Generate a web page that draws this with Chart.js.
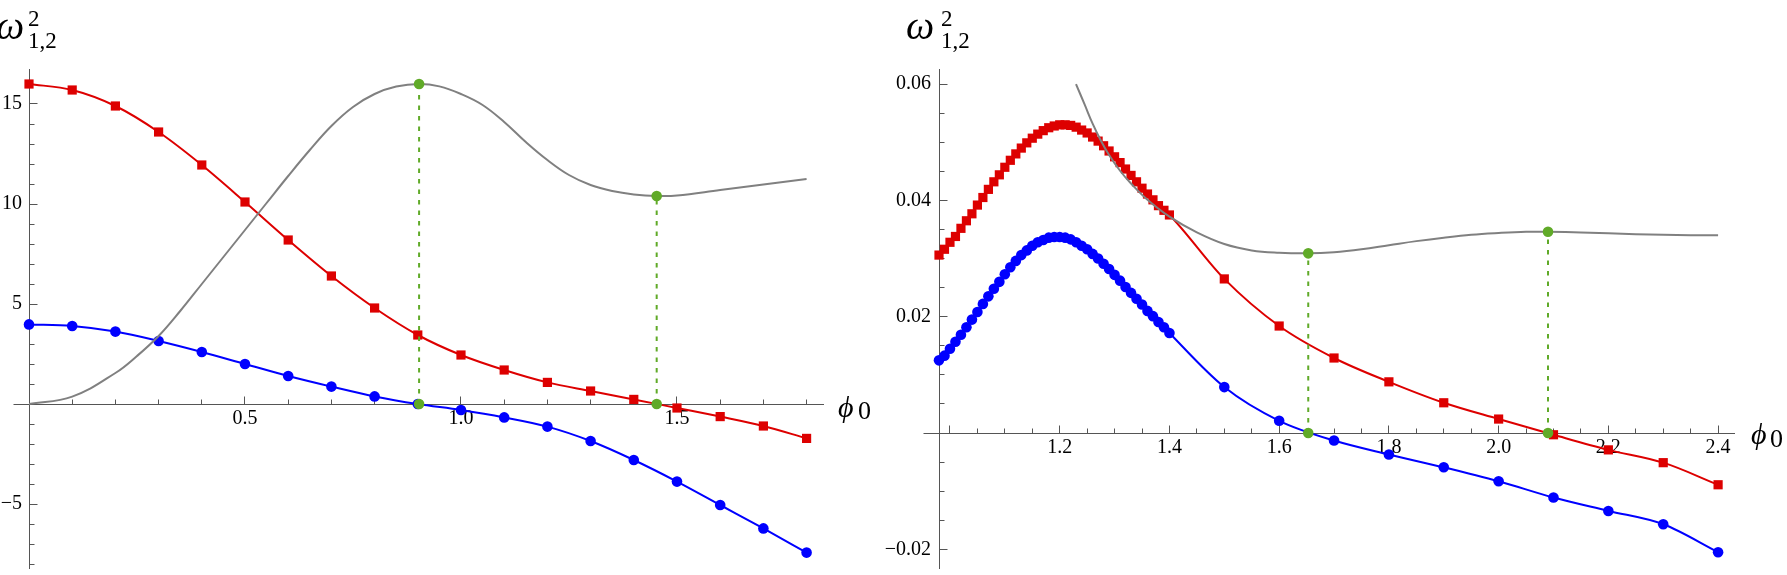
<!DOCTYPE html>
<html>
<head>
<meta charset="utf-8">
<script src="https://cdn.jsdelivr.net/npm/chart.js@4.4.1/dist/chart.umd.min.js"></script>
<style>
  html, body { margin: 0; padding: 0; background: #fff; }
  body { width: 1787px; height: 575px; position: relative; overflow: hidden; }
  canvas { position: absolute; top: 0; }
  .t { position: absolute; font-family: "Liberation Serif", serif; line-height: 1; white-space: nowrap; color: #000; }
  .it { font-style: italic; }
</style>
</head>
<body>
<canvas id="leftChart" width="880" height="575" style="left:0"></canvas>
<canvas id="rightChart" width="907" height="575" style="left:880px"></canvas>

<!-- axis labels -->
<span class="t it" style="left:-4px;top:6px;font-size:40px">ω</span>
<span class="t" style="left:28px;top:7px;font-size:23px">2</span>
<span class="t" style="left:28px;top:29px;font-size:23px">1,2</span>
<span class="t it" style="left:838px;top:392px;font-size:30px">ϕ</span>
<span class="t" style="left:858px;top:398px;font-size:26px">0</span>

<span class="t it" style="left:906px;top:6px;font-size:40px">ω</span>
<span class="t" style="left:941px;top:7px;font-size:23px">2</span>
<span class="t" style="left:941px;top:29px;font-size:23px">1,2</span>
<span class="t it" style="left:1751px;top:419px;font-size:30px">ϕ</span>
<span class="t" style="left:1770px;top:426px;font-size:26px">0</span>

<script>
// ---- left panel data ----
const leftPhi = [0, 0.1, 0.2, 0.3, 0.4, 0.5, 0.6, 0.7, 0.8, 0.9, 1.0, 1.1, 1.2, 1.3, 1.4, 1.5, 1.6, 1.7, 1.8];
const leftOmega2 = [16.0, 15.7, 14.9, 13.6, 11.95, 10.1, 8.2, 6.4, 4.8, 3.45, 2.45, 1.7, 1.08, 0.65, 0.23, -0.2, -0.63, -1.1, -1.72];
const leftOmega1 = [3.98, 3.9, 3.62, 3.15, 2.6, 2.0, 1.4, 0.87, 0.38, 0.0, -0.3, -0.67, -1.13, -1.85, -2.8, -3.88, -5.05, -6.22, -7.43];

const leftCurvePhi = [0, 0.1, 0.2, 0.25, 0.3, 0.35, 0.4, 0.45, 0.5, 0.55, 0.6, 0.65, 0.7, 0.75, 0.8, 0.85, 0.903,
  0.95, 1.0, 1.05, 1.1, 1.15, 1.2, 1.25, 1.3, 1.35, 1.4, 1.453, 1.5, 1.6, 1.7, 1.8];
const leftCurveVal = [0, 0.37, 1.55, 2.4, 3.4, 4.65, 6.0, 7.35, 8.7, 10.05, 11.4, 12.7, 13.9, 14.85, 15.5, 15.87, 16.0,
  15.88, 15.5, 14.95, 14.1, 13.1, 12.2, 11.45, 10.95, 10.65, 10.48, 10.4, 10.42, 10.7, 10.98, 11.25];

const leftMarkPhi = [0.903, 1.453];
const leftMarkVal = [16.0, 10.4];

const leftXLabels = [0.5, 1.0, 1.5];
const leftYLabels = [15, 10, 5, -5];

// ---- right panel data ----
const rightPhi = [0.98, 0.99, 1.00, 1.01, 1.02, 1.03, 1.04, 1.05, 1.06, 1.07, 1.08, 1.09, 1.10, 1.11, 1.12, 1.13, 1.14,
  1.15, 1.16, 1.17, 1.18, 1.19, 1.20, 1.21, 1.22, 1.23, 1.24, 1.25, 1.26, 1.27, 1.28, 1.29, 1.30, 1.31, 1.32, 1.33,
  1.34, 1.35, 1.36, 1.37, 1.38, 1.39, 1.40, 1.5, 1.6, 1.7, 1.8, 1.9, 2.0, 2.1, 2.2, 2.3, 2.4];
const rightOmega2 = [0.0306, 0.0316, 0.0328, 0.0338, 0.0352, 0.0365, 0.0377, 0.0392, 0.0405, 0.0419, 0.0432, 0.0444,
  0.0457, 0.0469, 0.0480, 0.0490, 0.0499, 0.0507, 0.0514, 0.0520, 0.0525, 0.0528, 0.0530, 0.0530, 0.0529, 0.0526,
  0.0521, 0.0516, 0.0509, 0.0502, 0.0494, 0.0485, 0.0475, 0.0465, 0.0454, 0.0443, 0.0432, 0.0421, 0.0411, 0.0401,
  0.0391, 0.0383, 0.0375, 0.0265, 0.0184, 0.0129, 0.0088, 0.0052, 0.0024, -0.0003, -0.0029, -0.0051, -0.0089];
const rightOmega1 = [0.0125, 0.0133, 0.0145, 0.0157, 0.0169, 0.0182, 0.0195, 0.0208, 0.0222, 0.0235, 0.0248, 0.0260,
  0.0273, 0.0285, 0.0296, 0.0306, 0.0314, 0.0322, 0.0328, 0.0332, 0.0336, 0.0337, 0.0337, 0.0336, 0.0333, 0.0328,
  0.0322, 0.0316, 0.0308, 0.0300, 0.0291, 0.0282, 0.0272, 0.0262, 0.0251, 0.0241, 0.0231, 0.0221, 0.0210, 0.0201,
  0.0191, 0.0182, 0.0172, 0.0079, 0.0021, -0.0013, -0.0037, -0.0059, -0.0083, -0.0111, -0.0134, -0.0157, -0.0205];

const rightCurvePhi = [1.2297, 1.245, 1.26, 1.275, 1.29, 1.31, 1.33, 1.36, 1.40, 1.45, 1.50, 1.55, 1.60, 1.653, 1.70,
  1.75, 1.80, 1.85, 1.90, 1.95, 2.00, 2.05, 2.09, 2.15, 2.25, 2.35, 2.40];
const rightCurveVal = [0.0600, 0.0566, 0.0532, 0.0503, 0.0478, 0.0451, 0.0429, 0.0401, 0.0372, 0.0345, 0.0325, 0.0314,
  0.0310, 0.0309, 0.0311, 0.0316, 0.0323, 0.0330, 0.0336, 0.0341, 0.0344, 0.0346, 0.0346, 0.0345, 0.0342, 0.0340, 0.0340];

const rightMarkPhi = [1.653, 2.09];
const rightMarkVal = [0.0309, 0.0346];

const rightXLabels = [1.2, 1.4, 1.6, 1.8, 2.0, 2.2, 2.4];
const rightYLabels = [0.06, 0.04, 0.02, -0.02];

// ---- styling ----
const RED = "#dd0000";
const BLUE = "#0000ff";
const GRAY = "#808080";
const GREEN = "#60aa28";
const AXIS = "#555555";
const FONT = '"Liberation Serif", serif';

function pts(xs, ys) {
  return xs.map((x, i) => ({ x: x, y: ys[i] }));
}

function isMultiple(v, step) {
  const r = v / step;
  return Math.abs(r - Math.round(r)) < 1e-6;
}

function labelFor(list, digits) {
  return (v) => {
    const hit = list.find((l) => Math.abs(l - v) < 1e-9);
    return hit === undefined ? "" : hit.toFixed(digits).replace("-", "\u2212");
  };
}

// inward tick marks, like the original axes
const innerTicks = {
  id: "innerTicks",
  beforeDatasetsDraw(chart, args, opts) {
    const { ctx, chartArea } = chart;
    const xs = chart.scales.x;
    const ys = chart.scales.y;
    const y0 = Math.round(ys.getPixelForValue(0) - 0.5) + 0.5;
    const x0 = Math.round(chartArea.left - 0.5) + 0.5;
    ctx.save();
    ctx.strokeStyle = AXIS;
    ctx.lineWidth = 1;
    ctx.beginPath();
    ctx.moveTo(x0 - opts.stub, y0);
    ctx.lineTo(x0, y0);
    xs.ticks.forEach((t) => {
      const px = Math.round(xs.getPixelForValue(t.value) - 0.5) + 0.5;
      if (Math.abs(px - x0) < 2) return;
      const len = isMultiple(t.value, opts.xMajor) ? 8 : 5;
      ctx.moveTo(px, y0);
      ctx.lineTo(px, y0 - len);
    });
    ys.ticks.forEach((t) => {
      if (Math.abs(t.value) < 1e-9) return;
      const py = Math.round(ys.getPixelForValue(t.value) - 0.5) + 0.5;
      const len = isMultiple(t.value, opts.yMajor) ? 8 : 5;
      ctx.moveTo(x0, py);
      ctx.lineTo(x0 + len, py);
    });
    ctx.stroke();
    ctx.restore();
  },
};

function buildDatasets(p) {
  const sets = [];
  // green markers on top
  sets.push({
    data: pts(p.markPhi, p.markVal).concat(pts(p.markPhi, p.markPhi.map(() => 0))),
    showLine: false,
    pointRadius: 5.3,
    pointBackgroundColor: GREEN,
    pointBorderWidth: 0,
    clip: false,
  });
  p.markPhi.forEach((x, i) => {
    sets.push({
      data: [{ x: x, y: 0 }, { x: x, y: p.markVal[i] }],
      borderColor: GREEN,
      borderWidth: 2,
      borderDash: [4.5, 6],
      pointRadius: 0,
    });
  });
  sets.push({
    data: pts(p.curvePhi, p.curveVal),
    borderColor: GRAY,
    borderWidth: 2,
    pointRadius: 0,
    tension: 0.4,
  });
  sets.push({
    data: pts(p.phi, p.omega1),
    borderColor: BLUE,
    borderWidth: 2,
    pointRadius: 5.3,
    pointStyle: "circle",
    pointBackgroundColor: BLUE,
    pointBorderWidth: 0,
    cubicInterpolationMode: "monotone",
    clip: false,
  });
  sets.push({
    data: pts(p.phi, p.omega2),
    borderColor: RED,
    borderWidth: 2,
    pointRadius: 6.5,
    pointStyle: "rect",
    pointBackgroundColor: RED,
    pointBorderWidth: 0,
    cubicInterpolationMode: "monotone",
    clip: false,
  });
  return sets;
}

function makePanel(canvas, p) {
  return new Chart(canvas, {
    type: "line",
    data: { datasets: buildDatasets(p) },
    plugins: [innerTicks],
    options: {
      responsive: false,
      animation: false,
      events: [],
      layout: { padding: p.padding },
      plugins: {
        legend: { display: false },
        tooltip: { enabled: false },
        innerTicks: { xMajor: p.xMajor, yMajor: p.yMajor, stub: 16 },
      },
      scales: {
        x: {
          type: "linear",
          position: { y: 0 },
          min: p.xMin,
          max: p.xMax,
          grid: { display: false, drawTicks: false },
          border: { display: true, color: AXIS, width: 1 },
          ticks: {
            stepSize: p.xStep,
            includeBounds: false,
            autoSkip: false,
            maxRotation: 0,
            padding: 3,
            color: "#000",
            font: { family: FONT, size: 20 },
            callback: labelFor(p.xLabels, 1),
          },
          afterFit(s) {
            s.paddingLeft = s.paddingRight = s.paddingTop = s.paddingBottom = 0;
          },
        },
        y: {
          type: "linear",
          position: "left",
          min: p.yMin,
          max: p.yMax,
          grid: { display: false, drawTicks: false },
          border: { display: true, color: AXIS, width: 1 },
          ticks: {
            stepSize: p.yStep,
            includeBounds: false,
            autoSkip: false,
            padding: p.yPad,
            color: "#000",
            font: { family: FONT, size: 20 },
            callback: labelFor(p.yLabels, p.yDigits),
          },
          afterFit(s) {
            s.width = p.yWidth;
            s.paddingTop = s.paddingBottom = 0;
          },
        },
      },
    },
  });
}

makePanel(document.getElementById("leftChart"), {
  phi: leftPhi, omega1: leftOmega1, omega2: leftOmega2,
  curvePhi: leftCurvePhi, curveVal: leftCurveVal,
  markPhi: leftMarkPhi, markVal: leftMarkVal,
  xLabels: leftXLabels, yLabels: leftYLabels, yDigits: 0,
  xMin: 0, xMax: 1.838, xStep: 0.1, xMajor: 0.5,
  yMin: -8.2, yMax: 16.75, yStep: 1, yMajor: 5,
  yWidth: 29, yPad: 7,
  padding: { left: 0, right: 57, top: 69, bottom: 7 },
});

makePanel(document.getElementById("rightChart"), {
  phi: rightPhi, omega1: rightOmega1, omega2: rightOmega2,
  curvePhi: rightCurvePhi, curveVal: rightCurveVal,
  markPhi: rightMarkPhi, markVal: rightMarkVal,
  xLabels: rightXLabels, yLabels: rightYLabels, yDigits: 2,
  xMin: 0.98, xMax: 2.429, xStep: 0.05, xMajor: 0.2,
  yMin: -0.0233, yMax: 0.0626, yStep: 0.005, yMajor: 0.02,
  yWidth: 59, yPad: 8,
  padding: { left: 0, right: 53, top: 69, bottom: 5 },
});
</script>
</body>
</html>
